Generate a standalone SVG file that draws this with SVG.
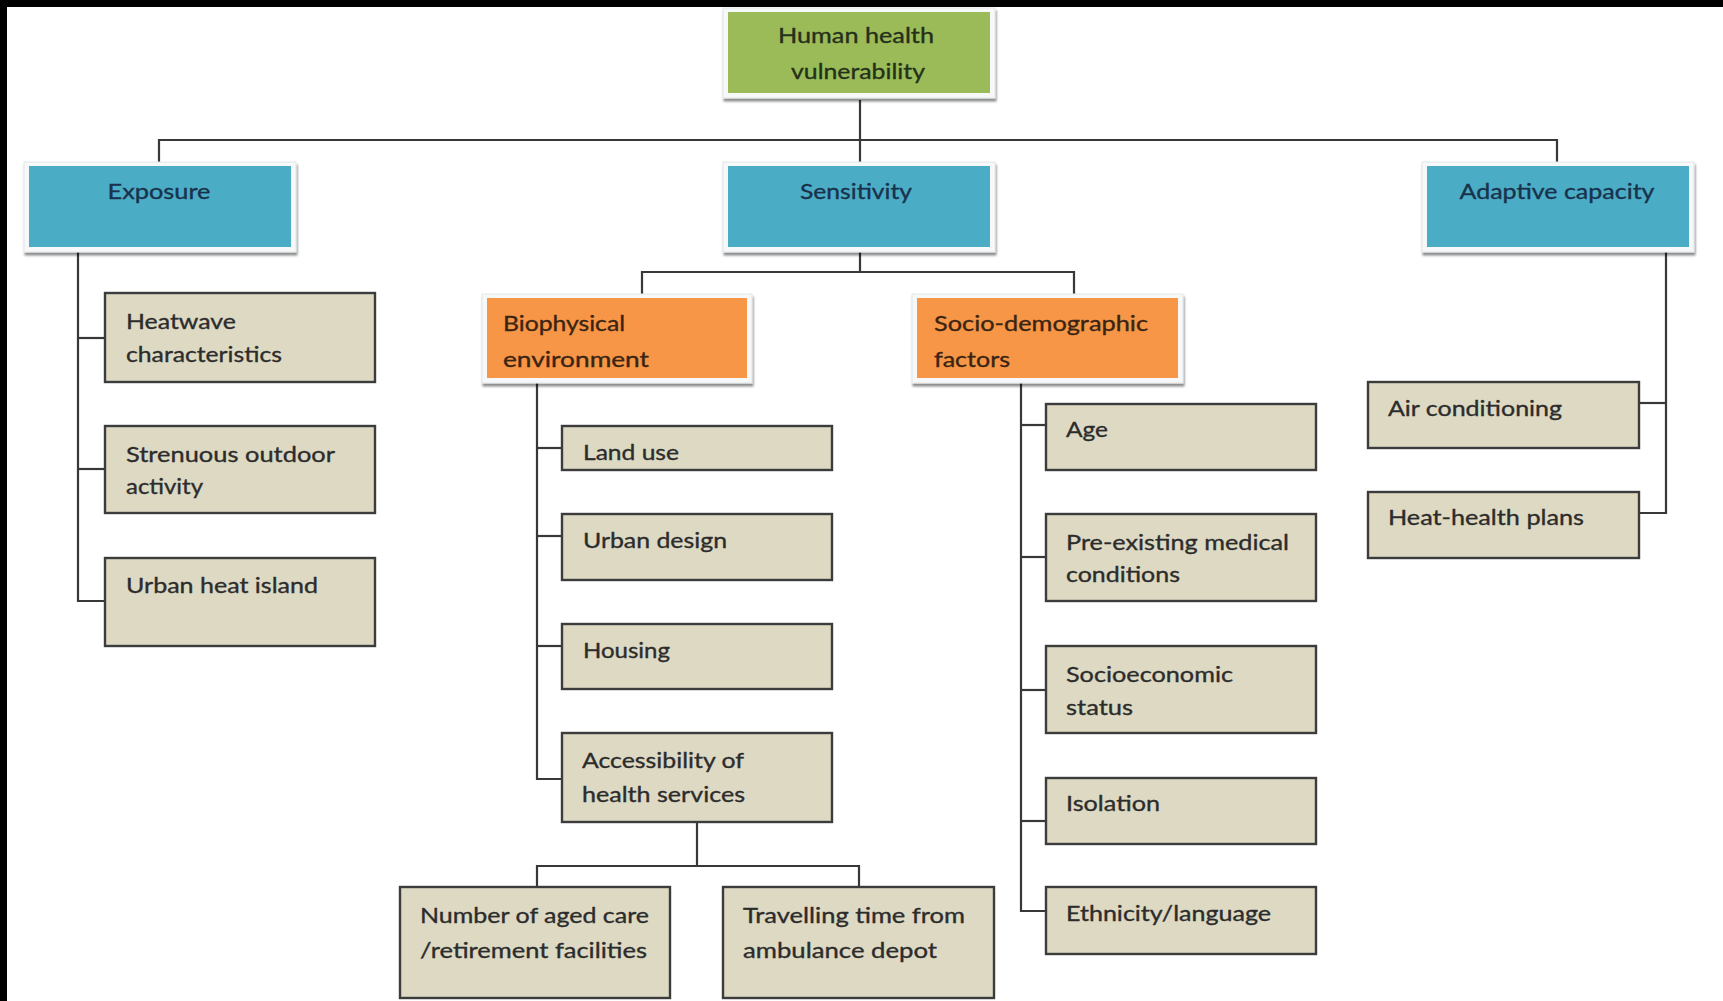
<svg xmlns="http://www.w3.org/2000/svg" width="1723" height="1001" viewBox="0 0 1723 1001">
  <style>
    text { font-family: Lato, "Open Sans", "Liberation Sans", sans-serif; font-size: 22px; stroke-width: 0.35; stroke-linejoin: round; }
    .wire { fill: none; stroke: #383838; stroke-width: 2.2; }
    .frame { fill: #f6f8f9; stroke: #e2e5e7; stroke-width: 1; filter: url(#lift); }
    .green { fill: #9bbb59; }
    .blue { fill: #4bacc6; }
    .orange { fill: #f79646; }
    .leaf { fill: #ddd9c3; stroke: #3c3c3c; stroke-width: 2.4; }
    .t-green { fill: #24301a; stroke: #24301a; }
    .t-blue { fill: #18324c; stroke: #18324c; }
    .t-orange { fill: #3a2414; stroke: #3a2414; }
    .t-leaf { fill: #2c2c2c; stroke: #2c2c2c; }
  </style>
  <defs>
    <filter id="lift" x="-5%" y="-10%" width="112%" height="130%">
      <feDropShadow dx="1" dy="3" stdDeviation="1.2" flood-color="#000" flood-opacity="0.45"/>
    </filter>
  </defs>

  <!-- page -->
  <rect x="0" y="0" width="1723" height="1001" fill="#ffffff"/>
  <rect x="0" y="0" width="1723" height="7" fill="#000000"/>
  <rect x="0" y="0" width="7" height="1001" fill="#000000"/>

  <!-- connectors -->
  <g id="connectors" class="wire">
    <path d="M860 100 V166"/>
    <path d="M159 162 V140 H1557 V162"/>
    <path d="M860 252 V272"/>
    <path d="M642 294 V272 H1074 V294"/>
    <!-- exposure branch -->
    <path d="M78 252 V601 H105"/>
    <path d="M78 338 H105"/>
    <path d="M78 469 H105"/>
    <!-- biophysical branch -->
    <path d="M537 383 V779 H562"/>
    <path d="M537 448 H562"/>
    <path d="M537 536 H562"/>
    <path d="M537 646 H562"/>
    <path d="M697 822 V866"/>
    <path d="M537 887 V866 H859 V887"/>
    <!-- socio-demographic branch -->
    <path d="M1021 383 V911 H1046"/>
    <path d="M1021 425 H1046"/>
    <path d="M1021 557 H1046"/>
    <path d="M1021 690 H1046"/>
    <path d="M1021 821 H1046"/>
    <!-- adaptive capacity branch -->
    <path d="M1666 252 V513 H1639"/>
    <path d="M1666 403 H1639"/>
  </g>

  <!-- top level -->
  <g id="n-vulnerability">
    <rect class="frame" x="723" y="8" width="272" height="90"/>
    <rect class="green" x="728" y="12" width="262" height="81"/>
    <text class="t-green" x="856" y="43" text-anchor="middle" textLength="156" lengthAdjust="spacingAndGlyphs">Human health</text>
    <text class="t-green" x="858" y="79" text-anchor="middle" textLength="134" lengthAdjust="spacingAndGlyphs">vulnerability</text>
  </g>

  <g id="n-exposure">
    <rect class="frame" x="24" y="162" width="272" height="90"/>
    <rect class="blue" x="29" y="166" width="262" height="81"/>
    <text class="t-blue" x="159" y="199" text-anchor="middle" textLength="103" lengthAdjust="spacingAndGlyphs">Exposure</text>
  </g>

  <g id="n-sensitivity">
    <rect class="frame" x="723" y="162" width="272" height="90"/>
    <rect class="blue" x="728" y="166" width="262" height="81"/>
    <text class="t-blue" x="856" y="199" text-anchor="middle" textLength="112" lengthAdjust="spacingAndGlyphs">Sensitivity</text>
  </g>

  <g id="n-adaptive">
    <rect class="frame" x="1422" y="162" width="272" height="90"/>
    <rect class="blue" x="1427" y="166" width="262" height="81"/>
    <text class="t-blue" x="1557" y="199" text-anchor="middle" textLength="195" lengthAdjust="spacingAndGlyphs">Adaptive capacity</text>
  </g>

  <g id="n-biophysical">
    <rect class="frame" x="482" y="294" width="270" height="89"/>
    <rect class="orange" x="487" y="298" width="260" height="80"/>
    <text class="t-orange" x="503" y="331" textLength="122" lengthAdjust="spacingAndGlyphs">Biophysical</text>
    <text class="t-orange" x="503" y="367" textLength="146" lengthAdjust="spacingAndGlyphs">environment</text>
  </g>

  <g id="n-socio">
    <rect class="frame" x="912" y="294" width="271" height="89"/>
    <rect class="orange" x="917" y="298" width="261" height="80"/>
    <text class="t-orange" x="934" y="331" textLength="214" lengthAdjust="spacingAndGlyphs">Socio-demographic</text>
    <text class="t-orange" x="934" y="367" textLength="76" lengthAdjust="spacingAndGlyphs">factors</text>
  </g>

  <!-- exposure items -->
  <g id="n-heatwave">
    <rect class="leaf" x="105" y="293" width="270" height="89"/>
    <text class="t-leaf" x="126" y="329" textLength="110" lengthAdjust="spacingAndGlyphs">Heatwave</text>
    <text class="t-leaf" x="126" y="362" textLength="156" lengthAdjust="spacingAndGlyphs">characteristics</text>
  </g>
  <g id="n-strenuous">
    <rect class="leaf" x="105" y="426" width="270" height="87"/>
    <text class="t-leaf" x="126" y="462" textLength="209" lengthAdjust="spacingAndGlyphs">Strenuous outdoor</text>
    <text class="t-leaf" x="126" y="494" textLength="77" lengthAdjust="spacingAndGlyphs">activity</text>
  </g>
  <g id="n-uhi">
    <rect class="leaf" x="105" y="558" width="270" height="88"/>
    <text class="t-leaf" x="126" y="593" textLength="192" lengthAdjust="spacingAndGlyphs">Urban heat island</text>
  </g>

  <!-- biophysical items -->
  <g id="n-landuse">
    <rect class="leaf" x="562" y="426" width="270" height="44"/>
    <text class="t-leaf" x="583" y="460" textLength="96" lengthAdjust="spacingAndGlyphs">Land use</text>
  </g>
  <g id="n-urbandesign">
    <rect class="leaf" x="562" y="514" width="270" height="66"/>
    <text class="t-leaf" x="583" y="548" textLength="144" lengthAdjust="spacingAndGlyphs">Urban design</text>
  </g>
  <g id="n-housing">
    <rect class="leaf" x="562" y="624" width="270" height="65"/>
    <text class="t-leaf" x="583" y="658" textLength="87" lengthAdjust="spacingAndGlyphs">Housing</text>
  </g>
  <g id="n-access">
    <rect class="leaf" x="562" y="733" width="270" height="89"/>
    <text class="t-leaf" x="582" y="768" textLength="162" lengthAdjust="spacingAndGlyphs">Accessibility of</text>
    <text class="t-leaf" x="582" y="802" textLength="163" lengthAdjust="spacingAndGlyphs">health services</text>
  </g>
  <g id="n-agedcare">
    <rect class="leaf" x="400" y="887" width="270" height="111"/>
    <text class="t-leaf" x="420" y="923" textLength="229" lengthAdjust="spacingAndGlyphs">Number of aged care</text>
    <text class="t-leaf" x="420" y="958" textLength="227" lengthAdjust="spacingAndGlyphs">/retirement facilities</text>
  </g>
  <g id="n-ambulance">
    <rect class="leaf" x="723" y="887" width="271" height="111"/>
    <text class="t-leaf" x="743" y="923" textLength="222" lengthAdjust="spacingAndGlyphs">Travelling time from</text>
    <text class="t-leaf" x="743" y="958" textLength="194" lengthAdjust="spacingAndGlyphs">ambulance depot</text>
  </g>

  <!-- socio-demographic items -->
  <g id="n-age">
    <rect class="leaf" x="1046" y="404" width="270" height="66"/>
    <text class="t-leaf" x="1066" y="437" textLength="42" lengthAdjust="spacingAndGlyphs">Age</text>
  </g>
  <g id="n-medical">
    <rect class="leaf" x="1046" y="514" width="270" height="87"/>
    <text class="t-leaf" x="1066" y="550" textLength="223" lengthAdjust="spacingAndGlyphs">Pre-existing medical</text>
    <text class="t-leaf" x="1066" y="582" textLength="114" lengthAdjust="spacingAndGlyphs">conditions</text>
  </g>
  <g id="n-ses">
    <rect class="leaf" x="1046" y="646" width="270" height="87"/>
    <text class="t-leaf" x="1066" y="682" textLength="167" lengthAdjust="spacingAndGlyphs">Socioeconomic</text>
    <text class="t-leaf" x="1066" y="715" textLength="67" lengthAdjust="spacingAndGlyphs">status</text>
  </g>
  <g id="n-isolation">
    <rect class="leaf" x="1046" y="778" width="270" height="66"/>
    <text class="t-leaf" x="1066" y="811" textLength="94" lengthAdjust="spacingAndGlyphs">Isolation</text>
  </g>
  <g id="n-ethnicity">
    <rect class="leaf" x="1046" y="887" width="270" height="67"/>
    <text class="t-leaf" x="1066" y="921" textLength="205" lengthAdjust="spacingAndGlyphs">Ethnicity/language</text>
  </g>

  <!-- adaptive capacity items -->
  <g id="n-aircon">
    <rect class="leaf" x="1368" y="382" width="271" height="66"/>
    <text class="t-leaf" x="1388" y="416" textLength="174" lengthAdjust="spacingAndGlyphs">Air conditioning</text>
  </g>
  <g id="n-plans">
    <rect class="leaf" x="1368" y="492" width="271" height="66"/>
    <text class="t-leaf" x="1388" y="525" textLength="196" lengthAdjust="spacingAndGlyphs">Heat-health plans</text>
  </g>
</svg>
